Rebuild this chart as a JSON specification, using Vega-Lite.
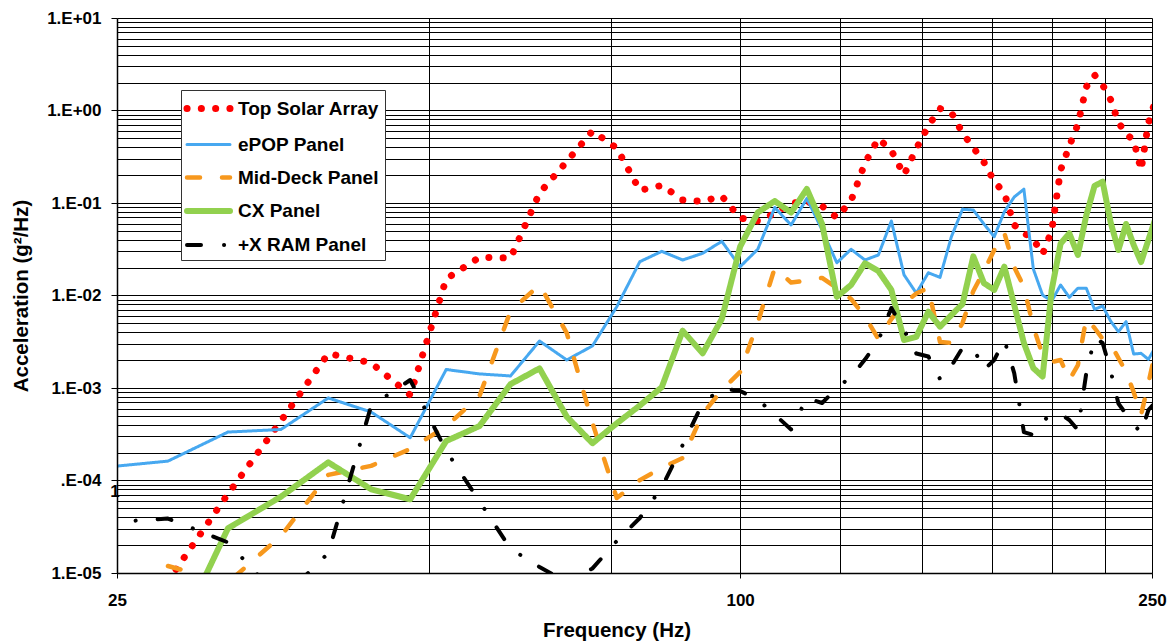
{
  "$schema": "https://vega.github.io/schema/vega-lite/v6.json",
  "width": 1035,
  "height": 555,
  "autosize": "none",
  "padding": {"left": 117, "top": 18, "right": 20, "bottom": 68},
  "background": "white",
  "config": {"view": {"stroke": null}, "font": "Liberation Sans"},
  "datasets": {
    "lbl": [{"f": 25, "v": 7.57e-5, "t": "1"}],
    "psd": [
      {"s": "Top Solar Array", "f": 28, "v": 8.19e-6},
      {"s": "Top Solar Array", "f": 32, "v": 7.15e-5},
      {"s": "Top Solar Array", "f": 36, "v": 4.40e-4},
      {"s": "Top Solar Array", "f": 40, "v": 2.36e-3},
      {"s": "Top Solar Array", "f": 44, "v": 1.87e-3},
      {"s": "Top Solar Array", "f": 48, "v": 8.40e-4},
      {"s": "Top Solar Array", "f": 52, "v": 1.51e-2},
      {"s": "Top Solar Array", "f": 56, "v": 2.59e-2},
      {"s": "Top Solar Array", "f": 60, "v": 2.54e-2},
      {"s": "Top Solar Array", "f": 64, "v": 0.128},
      {"s": "Top Solar Array", "f": 68, "v": 0.281},
      {"s": "Top Solar Array", "f": 72, "v": 0.600},
      {"s": "Top Solar Array", "f": 76, "v": 0.392},
      {"s": "Top Solar Array", "f": 80, "v": 0.137},
      {"s": "Top Solar Array", "f": 84, "v": 0.155},
      {"s": "Top Solar Array", "f": 88, "v": 0.108},
      {"s": "Top Solar Array", "f": 92, "v": 0.104},
      {"s": "Top Solar Array", "f": 96, "v": 0.119},
      {"s": "Top Solar Array", "f": 100, "v": 0.0688},
      {"s": "Top Solar Array", "f": 104, "v": 0.0639},
      {"s": "Top Solar Array", "f": 108, "v": 0.0768},
      {"s": "Top Solar Array", "f": 112, "v": 0.100},
      {"s": "Top Solar Array", "f": 116, "v": 0.103},
      {"s": "Top Solar Array", "f": 120, "v": 0.0928},
      {"s": "Top Solar Array", "f": 124, "v": 0.0697},
      {"s": "Top Solar Array", "f": 128, "v": 0.106},
      {"s": "Top Solar Array", "f": 132, "v": 0.269},
      {"s": "Top Solar Array", "f": 136, "v": 0.498},
      {"s": "Top Solar Array", "f": 140, "v": 0.369},
      {"s": "Top Solar Array", "f": 144, "v": 0.201},
      {"s": "Top Solar Array", "f": 148, "v": 0.388},
      {"s": "Top Solar Array", "f": 152, "v": 0.680},
      {"s": "Top Solar Array", "f": 156, "v": 1.05},
      {"s": "Top Solar Array", "f": 160, "v": 0.951},
      {"s": "Top Solar Array", "f": 164, "v": 0.571},
      {"s": "Top Solar Array", "f": 168, "v": 0.397},
      {"s": "Top Solar Array", "f": 172, "v": 0.277},
      {"s": "Top Solar Array", "f": 176, "v": 0.171},
      {"s": "Top Solar Array", "f": 180, "v": 0.128},
      {"s": "Top Solar Array", "f": 184, "v": 0.0578},
      {"s": "Top Solar Array", "f": 188, "v": 0.0474},
      {"s": "Top Solar Array", "f": 192, "v": 0.0405},
      {"s": "Top Solar Array", "f": 196, "v": 0.0281},
      {"s": "Top Solar Array", "f": 200, "v": 0.0502},
      {"s": "Top Solar Array", "f": 204, "v": 0.227},
      {"s": "Top Solar Array", "f": 208, "v": 0.413},
      {"s": "Top Solar Array", "f": 212, "v": 0.707},
      {"s": "Top Solar Array", "f": 216, "v": 1.80},
      {"s": "Top Solar Array", "f": 220, "v": 2.42},
      {"s": "Top Solar Array", "f": 224, "v": 1.89},
      {"s": "Top Solar Array", "f": 228, "v": 1.31},
      {"s": "Top Solar Array", "f": 232, "v": 0.745},
      {"s": "Top Solar Array", "f": 236, "v": 0.556},
      {"s": "Top Solar Array", "f": 240, "v": 0.480},
      {"s": "Top Solar Array", "f": 244, "v": 0.227},
      {"s": "Top Solar Array", "f": 248, "v": 0.733},
      {"s": "Top Solar Array", "f": 252, "v": 1.30},

      {"s": "ePOP Panel", "f": 24, "v": 1.37e-4},
      {"s": "ePOP Panel", "f": 28, "v": 1.62e-4},
      {"s": "ePOP Panel", "f": 32, "v": 3.34e-4},
      {"s": "ePOP Panel", "f": 36, "v": 3.56e-4},
      {"s": "ePOP Panel", "f": 40, "v": 7.80e-4},
      {"s": "ePOP Panel", "f": 44, "v": 5.50e-4},
      {"s": "ePOP Panel", "f": 48, "v": 2.90e-4},
      {"s": "ePOP Panel", "f": 52, "v": 1.585e-3},
      {"s": "ePOP Panel", "f": 56, "v": 1.42e-3},
      {"s": "ePOP Panel", "f": 60, "v": 1.35e-3},
      {"s": "ePOP Panel", "f": 64, "v": 3.22e-3},
      {"s": "ePOP Panel", "f": 68, "v": 2.01e-3},
      {"s": "ePOP Panel", "f": 72, "v": 2.85e-3},
      {"s": "ePOP Panel", "f": 76, "v": 7.57e-3},
      {"s": "ePOP Panel", "f": 80, "v": 2.32e-2},
      {"s": "ePOP Panel", "f": 84, "v": 3.00e-2},
      {"s": "ePOP Panel", "f": 88, "v": 2.42e-2},
      {"s": "ePOP Panel", "f": 92, "v": 2.86e-2},
      {"s": "ePOP Panel", "f": 96, "v": 3.85e-2},
      {"s": "ePOP Panel", "f": 100, "v": 2.05e-2},
      {"s": "ePOP Panel", "f": 104, "v": 3.16e-2},
      {"s": "ePOP Panel", "f": 108, "v": 8.94e-2},
      {"s": "ePOP Panel", "f": 112, "v": 5.78e-2},
      {"s": "ePOP Panel", "f": 116, "v": 0.112},
      {"s": "ePOP Panel", "f": 120, "v": 5.11e-2},
      {"s": "ePOP Panel", "f": 124, "v": 2.26e-2},
      {"s": "ePOP Panel", "f": 128, "v": 3.16e-2},
      {"s": "ePOP Panel", "f": 132, "v": 2.42e-2},
      {"s": "ePOP Panel", "f": 136, "v": 2.74e-2},
      {"s": "ePOP Panel", "f": 140, "v": 6.39e-2},
      {"s": "ePOP Panel", "f": 144, "v": 1.67e-2},
      {"s": "ePOP Panel", "f": 148, "v": 1.06e-2},
      {"s": "ePOP Panel", "f": 152, "v": 1.76e-2},
      {"s": "ePOP Panel", "f": 156, "v": 1.57e-2},
      {"s": "ePOP Panel", "f": 160, "v": 4.32e-2},
      {"s": "ePOP Panel", "f": 164, "v": 8.55e-2},
      {"s": "ePOP Panel", "f": 168, "v": 8.40e-2},
      {"s": "ePOP Panel", "f": 172, "v": 5.93e-2},
      {"s": "ePOP Panel", "f": 176, "v": 4.32e-2},
      {"s": "ePOP Panel", "f": 180, "v": 8.05e-2},
      {"s": "ePOP Panel", "f": 184, "v": 0.116},
      {"s": "ePOP Panel", "f": 188, "v": 0.141},
      {"s": "ePOP Panel", "f": 192, "v": 1.93e-2},
      {"s": "ePOP Panel", "f": 196, "v": 1.01e-2},
      {"s": "ePOP Panel", "f": 200, "v": 8.72e-3},
      {"s": "ePOP Panel", "f": 204, "v": 1.30e-2},
      {"s": "ePOP Panel", "f": 208, "v": 9.56e-3},
      {"s": "ePOP Panel", "f": 212, "v": 1.20e-2},
      {"s": "ePOP Panel", "f": 216, "v": 1.20e-2},
      {"s": "ePOP Panel", "f": 220, "v": 7.09e-3},
      {"s": "ePOP Panel", "f": 224, "v": 7.70e-3},
      {"s": "ePOP Panel", "f": 228, "v": 5.30e-3},
      {"s": "ePOP Panel", "f": 232, "v": 4.06e-3},
      {"s": "ePOP Panel", "f": 236, "v": 5.21e-3},
      {"s": "ePOP Panel", "f": 240, "v": 2.33e-3},
      {"s": "ePOP Panel", "f": 244, "v": 2.37e-3},
      {"s": "ePOP Panel", "f": 248, "v": 2.04e-3},
      {"s": "ePOP Panel", "f": 252, "v": 2.78e-3},

      {"s": "Mid-Deck Panel", "f": 28, "v": 1.19e-5},
      {"s": "Mid-Deck Panel", "f": 32, "v": 7.89e-6},
      {"s": "Mid-Deck Panel", "f": 36, "v": 2.51e-5},
      {"s": "Mid-Deck Panel", "f": 40, "v": 1.15e-4},
      {"s": "Mid-Deck Panel", "f": 44, "v": 1.44e-4},
      {"s": "Mid-Deck Panel", "f": 48, "v": 2.19e-4},
      {"s": "Mid-Deck Panel", "f": 52, "v": 3.84e-4},
      {"s": "Mid-Deck Panel", "f": 56, "v": 8.19e-4},
      {"s": "Mid-Deck Panel", "f": 60, "v": 6.80e-3},
      {"s": "Mid-Deck Panel", "f": 64, "v": 1.30e-2},
      {"s": "Mid-Deck Panel", "f": 68, "v": 3.93e-3},
      {"s": "Mid-Deck Panel", "f": 72, "v": 4.18e-4},
      {"s": "Mid-Deck Panel", "f": 76, "v": 6.47e-5},
      {"s": "Mid-Deck Panel", "f": 80, "v": 1.01e-4},
      {"s": "Mid-Deck Panel", "f": 84, "v": 1.37e-4},
      {"s": "Mid-Deck Panel", "f": 88, "v": 1.75e-4},
      {"s": "Mid-Deck Panel", "f": 92, "v": 5.24e-4},
      {"s": "Mid-Deck Panel", "f": 96, "v": 9.51e-4},
      {"s": "Mid-Deck Panel", "f": 100, "v": 1.49e-3},
      {"s": "Mid-Deck Panel", "f": 104, "v": 5.09e-3},
      {"s": "Mid-Deck Panel", "f": 108, "v": 1.98e-2},
      {"s": "Mid-Deck Panel", "f": 112, "v": 1.38e-2},
      {"s": "Mid-Deck Panel", "f": 116, "v": 1.45e-2},
      {"s": "Mid-Deck Panel", "f": 120, "v": 1.55e-2},
      {"s": "Mid-Deck Panel", "f": 124, "v": 1.21e-2},
      {"s": "Mid-Deck Panel", "f": 128, "v": 9.17e-3},
      {"s": "Mid-Deck Panel", "f": 132, "v": 5.93e-3},
      {"s": "Mid-Deck Panel", "f": 136, "v": 3.39e-3},
      {"s": "Mid-Deck Panel", "f": 140, "v": 5.57e-3},
      {"s": "Mid-Deck Panel", "f": 144, "v": 8.30e-3},
      {"s": "Mid-Deck Panel", "f": 148, "v": 1.05e-2},
      {"s": "Mid-Deck Panel", "f": 152, "v": 1.21e-2},
      {"s": "Mid-Deck Panel", "f": 156, "v": 3.14e-3},
      {"s": "Mid-Deck Panel", "f": 160, "v": 3.07e-3},
      {"s": "Mid-Deck Panel", "f": 164, "v": 5.04e-3},
      {"s": "Mid-Deck Panel", "f": 168, "v": 1.12e-2},
      {"s": "Mid-Deck Panel", "f": 172, "v": 1.84e-2},
      {"s": "Mid-Deck Panel", "f": 176, "v": 3.10e-2},
      {"s": "Mid-Deck Panel", "f": 180, "v": 4.74e-2},
      {"s": "Mid-Deck Panel", "f": 184, "v": 2.03e-2},
      {"s": "Mid-Deck Panel", "f": 188, "v": 1.24e-2},
      {"s": "Mid-Deck Panel", "f": 192, "v": 4.56e-3},
      {"s": "Mid-Deck Panel", "f": 196, "v": 2.27e-3},
      {"s": "Mid-Deck Panel", "f": 200, "v": 1.91e-3},
      {"s": "Mid-Deck Panel", "f": 204, "v": 2.01e-3},
      {"s": "Mid-Deck Panel", "f": 208, "v": 1.22e-3},
      {"s": "Mid-Deck Panel", "f": 212, "v": 1.77e-3},
      {"s": "Mid-Deck Panel", "f": 216, "v": 5.71e-3},
      {"s": "Mid-Deck Panel", "f": 220, "v": 4.45e-3},
      {"s": "Mid-Deck Panel", "f": 224, "v": 3.39e-3},
      {"s": "Mid-Deck Panel", "f": 228, "v": 2.99e-3},
      {"s": "Mid-Deck Panel", "f": 232, "v": 2.11e-3},
      {"s": "Mid-Deck Panel", "f": 236, "v": 1.49e-3},
      {"s": "Mid-Deck Panel", "f": 240, "v": 9.05e-4},
      {"s": "Mid-Deck Panel", "f": 244, "v": 5.11e-4},
      {"s": "Mid-Deck Panel", "f": 248, "v": 1.13e-3},
      {"s": "Mid-Deck Panel", "f": 252, "v": 2.51e-3},

      {"s": "CX Panel", "f": 28, "v": 1.30e-6},
      {"s": "CX Panel", "f": 32, "v": 3.04e-5},
      {"s": "CX Panel", "f": 36, "v": 6.68e-5},
      {"s": "CX Panel", "f": 40, "v": 1.57e-4},
      {"s": "CX Panel", "f": 44, "v": 8.04e-5},
      {"s": "CX Panel", "f": 48, "v": 6.26e-5},
      {"s": "CX Panel", "f": 52, "v": 2.67e-4},
      {"s": "CX Panel", "f": 56, "v": 3.88e-4},
      {"s": "CX Panel", "f": 60, "v": 1.10e-3},
      {"s": "CX Panel", "f": 64, "v": 1.63e-3},
      {"s": "CX Panel", "f": 68, "v": 4.89e-4},
      {"s": "CX Panel", "f": 72, "v": 2.53e-4},
      {"s": "CX Panel", "f": 76, "v": 4.15e-4},
      {"s": "CX Panel", "f": 80, "v": 6.47e-4},
      {"s": "CX Panel", "f": 84, "v": 1.02e-3},
      {"s": "CX Panel", "f": 88, "v": 4.16e-3},
      {"s": "CX Panel", "f": 92, "v": 2.37e-3},
      {"s": "CX Panel", "f": 96, "v": 5.57e-3},
      {"s": "CX Panel", "f": 100, "v": 3.37e-2},
      {"s": "CX Panel", "f": 104, "v": 7.89e-2},
      {"s": "CX Panel", "f": 108, "v": 0.105},
      {"s": "CX Panel", "f": 112, "v": 7.89e-2},
      {"s": "CX Panel", "f": 116, "v": 0.142},
      {"s": "CX Panel", "f": 120, "v": 5.93e-2},
      {"s": "CX Panel", "f": 124, "v": 9.70e-3},
      {"s": "CX Panel", "f": 128, "v": 1.30e-2},
      {"s": "CX Panel", "f": 132, "v": 2.23e-2},
      {"s": "CX Panel", "f": 136, "v": 1.84e-2},
      {"s": "CX Panel", "f": 140, "v": 1.15e-2},
      {"s": "CX Panel", "f": 144, "v": 3.30e-3},
      {"s": "CX Panel", "f": 148, "v": 3.58e-3},
      {"s": "CX Panel", "f": 152, "v": 6.68e-3},
      {"s": "CX Panel", "f": 156, "v": 4.60e-3},
      {"s": "CX Panel", "f": 160, "v": 6.15e-3},
      {"s": "CX Panel", "f": 164, "v": 8.09e-3},
      {"s": "CX Panel", "f": 168, "v": 2.65e-2},
      {"s": "CX Panel", "f": 172, "v": 1.36e-2},
      {"s": "CX Panel", "f": 176, "v": 1.15e-2},
      {"s": "CX Panel", "f": 180, "v": 2.05e-2},
      {"s": "CX Panel", "f": 184, "v": 7.89e-3},
      {"s": "CX Panel", "f": 188, "v": 3.07e-3},
      {"s": "CX Panel", "f": 192, "v": 1.64e-3},
      {"s": "CX Panel", "f": 196, "v": 1.33e-3},
      {"s": "CX Panel", "f": 200, "v": 1.15e-2},
      {"s": "CX Panel", "f": 204, "v": 3.64e-2},
      {"s": "CX Panel", "f": 208, "v": 4.70e-2},
      {"s": "CX Panel", "f": 212, "v": 2.74e-2},
      {"s": "CX Panel", "f": 216, "v": 7.33e-2},
      {"s": "CX Panel", "f": 220, "v": 0.153},
      {"s": "CX Panel", "f": 224, "v": 0.170},
      {"s": "CX Panel", "f": 228, "v": 6.20e-2},
      {"s": "CX Panel", "f": 232, "v": 3.10e-2},
      {"s": "CX Panel", "f": 236, "v": 5.93e-2},
      {"s": "CX Panel", "f": 240, "v": 3.52e-2},
      {"s": "CX Panel", "f": 244, "v": 2.30e-2},
      {"s": "CX Panel", "f": 248, "v": 3.98e-2},
      {"s": "CX Panel", "f": 252, "v": 6.88e-2},

      {"s": "+X RAM Panel", "f": 24, "v": 3.47e-5},
      {"s": "+X RAM Panel", "f": 28, "v": 3.88e-5},
      {"s": "+X RAM Panel", "f": 32, "v": 2.14e-5},
      {"s": "+X RAM Panel", "f": 36, "v": 5.11e-6},
      {"s": "+X RAM Panel", "f": 40, "v": 1.64e-5},
      {"s": "+X RAM Panel", "f": 44, "v": 6.39e-4},
      {"s": "+X RAM Panel", "f": 48, "v": 1.22e-3},
      {"s": "+X RAM Panel", "f": 52, "v": 2.10e-4},
      {"s": "+X RAM Panel", "f": 56, "v": 5.93e-5},
      {"s": "+X RAM Panel", "f": 60, "v": 1.83e-5},
      {"s": "+X RAM Panel", "f": 64, "v": 1.16e-5},
      {"s": "+X RAM Panel", "f": 68, "v": 7.99e-6},
      {"s": "+X RAM Panel", "f": 72, "v": 1.12e-5},
      {"s": "+X RAM Panel", "f": 76, "v": 2.22e-5},
      {"s": "+X RAM Panel", "f": 80, "v": 3.93e-5},
      {"s": "+X RAM Panel", "f": 84, "v": 8.42e-5},
      {"s": "+X RAM Panel", "f": 88, "v": 2.42e-4},
      {"s": "+X RAM Panel", "f": 92, "v": 6.88e-4},
      {"s": "+X RAM Panel", "f": 96, "v": 9.88e-4},
      {"s": "+X RAM Panel", "f": 100, "v": 9.28e-4},
      {"s": "+X RAM Panel", "f": 104, "v": 7.51e-4},
      {"s": "+X RAM Panel", "f": 108, "v": 5.17e-4},
      {"s": "+X RAM Panel", "f": 112, "v": 3.56e-4},
      {"s": "+X RAM Panel", "f": 116, "v": 7.80e-4},
      {"s": "+X RAM Panel", "f": 120, "v": 6.88e-4},
      {"s": "+X RAM Panel", "f": 124, "v": 9.95e-4},
      {"s": "+X RAM Panel", "f": 128, "v": 1.33e-3},
      {"s": "+X RAM Panel", "f": 132, "v": 2.03e-3},
      {"s": "+X RAM Panel", "f": 136, "v": 3.26e-3},
      {"s": "+X RAM Panel", "f": 140, "v": 7.33e-3},
      {"s": "+X RAM Panel", "f": 144, "v": 4.24e-3},
      {"s": "+X RAM Panel", "f": 148, "v": 2.36e-3},
      {"s": "+X RAM Panel", "f": 152, "v": 2.19e-3},
      {"s": "+X RAM Panel", "f": 156, "v": 1.25e-3},
      {"s": "+X RAM Panel", "f": 160, "v": 1.73e-3},
      {"s": "+X RAM Panel", "f": 164, "v": 2.71e-3},
      {"s": "+X RAM Panel", "f": 168, "v": 2.71e-3},
      {"s": "+X RAM Panel", "f": 172, "v": 1.57e-3},
      {"s": "+X RAM Panel", "f": 176, "v": 2.01e-3},
      {"s": "+X RAM Panel", "f": 180, "v": 3.30e-3},
      {"s": "+X RAM Panel", "f": 184, "v": 1.45e-3},
      {"s": "+X RAM Panel", "f": 188, "v": 3.34e-4},
      {"s": "+X RAM Panel", "f": 192, "v": 3.10e-4},
      {"s": "+X RAM Panel", "f": 196, "v": 4.40e-4},
      {"s": "+X RAM Panel", "f": 200, "v": 5.11e-4},
      {"s": "+X RAM Panel", "f": 204, "v": 5.24e-4},
      {"s": "+X RAM Panel", "f": 208, "v": 4.51e-4},
      {"s": "+X RAM Panel", "f": 212, "v": 3.52e-4},
      {"s": "+X RAM Panel", "f": 216, "v": 1.45e-3},
      {"s": "+X RAM Panel", "f": 220, "v": 3.47e-3},
      {"s": "+X RAM Panel", "f": 224, "v": 3.07e-3},
      {"s": "+X RAM Panel", "f": 228, "v": 1.54e-3},
      {"s": "+X RAM Panel", "f": 232, "v": 6.80e-4},
      {"s": "+X RAM Panel", "f": 236, "v": 5.21e-4},
      {"s": "+X RAM Panel", "f": 240, "v": 4.08e-4},
      {"s": "+X RAM Panel", "f": 244, "v": 3.26e-4},
      {"s": "+X RAM Panel", "f": 248, "v": 5.78e-4},
      {"s": "+X RAM Panel", "f": 252, "v": 7.06e-4}
    ]
  },
  "resolve": {"axis": {"x": "independent", "y": "independent"}},
  "layer": [
    {
      "data": {"name": "lbl"},
      "mark": {"type": "text", "font": "Liberation Sans", "fontWeight": "bold", "fontSize": 17, "align": "center", "baseline": "middle", "dx": -2, "color": "#000"},
      "encoding": {
        "x": {"field": "f", "type": "quantitative", "scale": {"type": "log", "domain": [25, 250], "nice": false, "zero": false},
          "axis": {"orient": "bottom", "values": [50, 75, 100, 125, 150, 175, 200, 225, 250], "grid": true, "gridColor": "#000", "gridWidth": 1, "gridOpacity": 1, "labels": false, "ticks": false, "domain": false, "title": null, "zindex": 0}},
        "y": {"field": "v", "type": "quantitative", "scale": {"type": "log", "domain": [1e-5, 10], "nice": false, "zero": false},
          "axis": {"orient": "left", "values": [1e-5, 2e-5, 3e-5, 4e-5, 5e-5, 6e-5, 7e-5, 8e-5, 9e-5, 1e-4, 2e-4, 3e-4, 4e-4, 5e-4, 6e-4, 7e-4, 8e-4, 9e-4, 0.001, 0.002, 0.003, 0.004, 0.005, 0.006, 0.007, 0.008, 0.009, 0.01, 0.02, 0.03, 0.04, 0.05, 0.06, 0.07, 0.08, 0.09, 0.1, 0.2, 0.3, 0.4, 0.5, 0.6, 0.7, 0.8, 0.9, 1, 2, 3, 4, 5, 6, 7, 8, 9, 10], "grid": true, "gridColor": "#000", "gridWidth": 1, "gridOpacity": 1, "labels": false, "ticks": false, "domain": false, "title": null, "zindex": 0}},
        "text": {"field": "t"}
      }
    },
    {
      "data": {"name": "psd"},
      "mark": {"type": "line", "clip": true, "strokeCap": "round", "strokeJoin": "round"},
      "encoding": {
        "x": {"field": "f", "type": "quantitative", "scale": {"type": "log", "domain": [25, 250], "nice": false, "zero": false},
          "axis": {"orient": "bottom", "values": [25, 100, 250], "format": "d", "grid": false, "domain": true, "domainColor": "#000", "domainWidth": 1.5, "ticks": true, "tickColor": "#000", "tickSize": 5, "labelFont": "Liberation Sans", "labelFontWeight": "bold", "labelFontSize": 17, "labelColor": "#000", "labelPadding": 14, "labelFlush": false, "labelOverlap": false,
            "title": "Frequency (Hz)", "titleFont": "Liberation Sans", "titleFontWeight": "bold", "titleFontSize": 20.5, "titleColor": "#000", "titleX": 499.5, "titleY": 57, "titleAlign": "center", "titleBaseline": "middle", "zindex": 1}},
        "y": {"field": "v", "type": "quantitative", "scale": {"type": "log", "domain": [1e-5, 10], "nice": false, "zero": false},
          "axis": {"orient": "left", "values": [1e-5, 1e-4, 0.001, 0.01, 0.1, 1, 10], "grid": false, "domain": true, "domainColor": "#000", "domainWidth": 1.5, "ticks": true, "tickColor": "#000", "tickSize": 6, "labelFont": "Liberation Sans", "labelFontWeight": "bold", "labelFontSize": 17, "labelColor": "#000", "labelPadding": 10, "labelOverlap": false, "labelFlush": false,
            "labelExpr": "datum.value >= 9 ? '1.E+01' : datum.value >= 0.9 ? '1.E+00' : datum.value >= 0.09 ? '1.E-01' : datum.value >= 0.009 ? '1.E-02' : datum.value >= 0.0009 ? '1.E-03' : datum.value >= 0.00009 ? '.E-04' : '1.E-05'",
            "title": "Acceleration (g²/Hz)", "titleFont": "Liberation Sans", "titleFontWeight": "bold", "titleFontSize": 20.5, "titleColor": "#000", "titleX": -96, "titleY": 277.5, "titleAngle": -90, "titleAlign": "center", "titleBaseline": "middle", "zindex": 1}},
        "color": {"field": "s", "type": "nominal",
          "scale": {"domain": ["Top Solar Array", "ePOP Panel", "Mid-Deck Panel", "CX Panel", "+X RAM Panel"], "range": ["#FF0000", "#47A8F0", "#F7981D", "#92D14F", "#000000"]},
          "legend": {"orient": "none", "legendX": 64, "legendY": 72, "title": null, "symbolType": "M-2.15,0H2.15", "symbolSize": 400, "symbolOffset": 9, "labelFont": "Liberation Sans", "labelFontWeight": "bold", "labelFontSize": 19, "labelColor": "#000", "labelOffset": 16, "labelLimit": 300, "padding": 5, "rowPadding": 10, "strokeColor": "#333", "fillColor": "#fff",
            "encode": {"symbols": {"update": {"strokeCap": {"value": "round"}}}}}},
        "strokeDash": {"field": "s", "type": "nominal",
          "scale": {"domain": ["Top Solar Array", "ePOP Panel", "Mid-Deck Panel", "CX Panel", "+X RAM Panel"], "range": [[0.1, 14.2], [1, 0], [13, 22], [1, 0], [14, 23, 0.1, 22]]},
          "legend": {"orient": "none", "legendX": 64, "legendY": 72, "title": null, "symbolType": "M-2.15,0H2.15", "symbolSize": 400, "symbolOffset": 9, "labelFont": "Liberation Sans", "labelFontWeight": "bold", "labelFontSize": 19, "labelColor": "#000", "labelOffset": 16, "labelLimit": 300, "padding": 5, "rowPadding": 10, "strokeColor": "#333", "fillColor": "#fff",
            "encode": {"symbols": {"update": {"strokeCap": {"value": "round"}}}}}},
        "strokeWidth": {"field": "s", "type": "nominal",
          "scale": {"type": "ordinal", "domain": ["Top Solar Array", "ePOP Panel", "Mid-Deck Panel", "CX Panel", "+X RAM Panel"], "range": [7, 3, 4.5, 6, 4]},
          "legend": {"orient": "none", "legendX": 64, "legendY": 72, "title": null, "symbolType": "M-2.15,0H2.15", "symbolSize": 400, "symbolOffset": 9, "labelFont": "Liberation Sans", "labelFontWeight": "bold", "labelFontSize": 19, "labelColor": "#000", "labelOffset": 16, "labelLimit": 300, "padding": 5, "rowPadding": 10, "strokeColor": "#333", "fillColor": "#fff",
            "encode": {"symbols": {"update": {"strokeCap": {"value": "round"}}}}}}
      }
    }
  ]
}
